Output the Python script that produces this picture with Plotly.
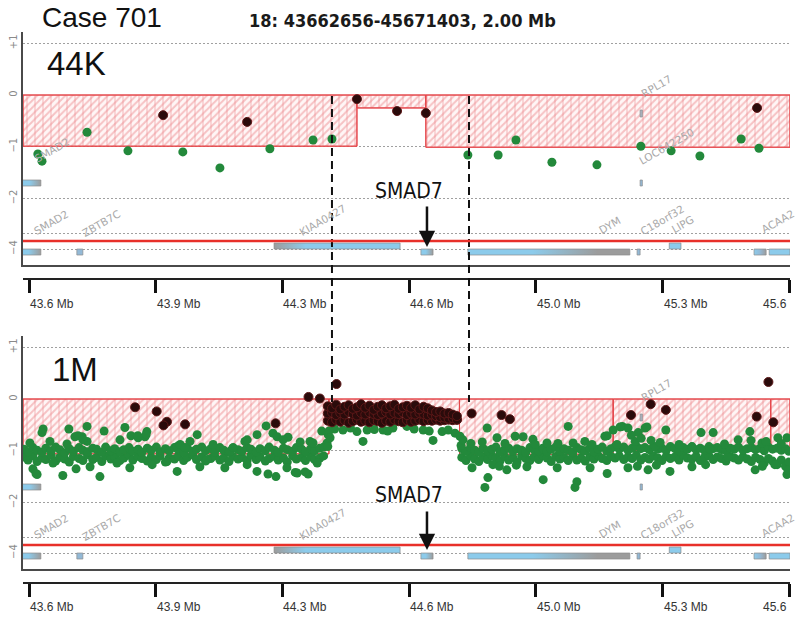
import plotly.graph_objects as go

# ---------------- data ----------------
x_range = [43.6468, 45.673]
y_range = [-3.288, 1.219]

tick_vals = [43.6627, 43.9974, 44.3322, 44.6670, 45.0018, 45.3366, 45.6714]
tick_text = ["43.6 Mb", "43.9 Mb", "44.3 Mb", "44.6 Mb", "45.0 Mb", "45.3 Mb", "45.6"]

ytick_vals = [1, 0, -1, -2, -2.67, -2.98]
ytick_text = ["+1", "0", "\u22121", "\u22122", "", "\u22124"]

# ---- 44K array ----
k44_green = [(43.686, -1.14), (43.697, -1.28), (43.816, -0.72), (43.924, -1.08), (44.069, -1.10),
             (44.167, -1.41), (44.299, -1.04), (44.413, -0.87), (44.463, -0.85), (44.822, -1.16),
             (44.902, -1.16), (44.949, -0.87), (45.044, -1.30), (45.163, -1.35), (45.279, -0.99),
             (45.359, -1.08), (45.435, -1.18), (45.544, -0.85), (45.591, -1.03)]
k44_dark = [(44.017, -0.39), (44.239, -0.52), (44.529, -0.08), (44.635, -0.31), (44.711, -0.35),
            (45.586, -0.25)]
k44_seg_start = [43.6468, 44.529, 44.711]
k44_seg_end = [44.529, 44.711, 45.673]
k44_seg_mean = [-0.99, -0.25, -1.01]

# ---- 1M array ----
m1_seg_start = [43.6468, 44.455, 44.800, 45.206, 45.622]
m1_seg_end = [44.455, 44.800, 45.206, 45.622, 45.673]
m1_seg_mean = [-1.06, -0.39, -1.07, -0.99, -0.99]

m1_green_scatter = [
    (43.700, -0.58), (43.697, -0.65), (43.768, -0.58), (43.816, -0.53), (43.861, -0.62), (43.916, -0.55),
    (43.974, -0.63), (43.932, -0.71), (43.665, -0.85), (43.718, -0.82), (43.763, -0.87), (43.784, -0.73),
    (43.803, -0.73), (43.816, -0.82), (43.903, -0.79), (43.951, -0.75), (43.969, -0.73), (44.107, -0.69),
    (44.088, -0.82), (44.054, -0.92), (44.289, -0.52), (44.233, -0.82), (44.265, -0.69), (44.307, -0.66),
    (44.347, -0.74), (44.405, -0.82), (44.453, -0.69), (44.450, -0.85), (44.149, -0.88), (44.194, -1.01),
    (44.436, -0.62), (43.792, -0.71), (43.805, -0.79), (44.062, -0.88), (44.075, -0.94), (44.202, -0.94),
    (44.239, -0.79), (44.318, -0.73), (44.334, -0.79), (44.379, -0.83), (44.413, -0.85), (43.972, -0.69),
    (43.950, -0.71),
    (43.673, -1.35), (43.684, -1.46), (43.752, -1.48), (43.787, -1.35), (43.824, -1.31), (43.850, -1.50),
    (43.929, -1.33), (44.054, -1.40), (44.114, -1.31), (44.133, -1.17), (43.726, -1.24), (43.895, -1.24),
    (43.988, -1.27), (44.027, -1.21), (44.180, -1.33), (44.265, -1.40), (44.294, -1.45), (44.315, -1.50),
    (44.371, -1.43), (44.400, -1.45), (44.344, -1.33), (44.239, -1.27), (44.424, -1.24), (43.681, -1.44),
    (44.366, -1.42), (44.392, -1.41),
    (44.492, -0.60), (44.529, -0.63), (44.556, -0.60), (44.598, -0.60), (44.624, -0.56), (44.545, -0.82),
    (44.661, -0.53), (44.704, -0.60), (44.730, -0.80), (44.754, -0.63), (44.788, -0.66), (44.470, -0.58),
    (44.512, -0.56), (44.575, -0.59), (44.610, -0.62), (44.680, -0.58), (44.720, -0.62), (44.770, -0.60),
    (44.455, -0.62), (44.458, -0.75), (44.452, -0.92), (44.801, -0.72), (44.804, -0.90),
    (44.873, -0.56), (45.087, -0.53), (44.809, -0.79), (44.899, -0.75), (44.947, -0.72), (44.968, -0.73),
    (44.994, -0.78), (45.031, -0.85), (45.100, -0.85), (45.131, -0.82), (45.150, -0.88), (45.184, -0.72),
    (45.206, -0.60), (45.230, -0.53), (45.245, -0.56), (45.272, -0.65), (45.290, -0.56), (45.345, -0.60),
    (45.438, -0.65), (45.470, -0.65), (45.567, -0.63), (45.536, -0.79), (45.641, -0.75), (45.665, -0.75),
    (45.216, -0.88), (45.264, -0.82), (45.316, -0.92), (45.414, -0.92), (45.462, -0.98), (45.599, -0.85),
    (45.224, -0.54), (45.295, -0.54), (45.190, -0.71), (45.254, -0.70), (45.280, -0.76), (45.306, -0.80),
    (45.330, -0.84), (45.570, -0.80), (45.610, -0.82), (45.650, -0.86), (44.830, -0.86), (44.860, -0.83),
    (44.920, -0.86), (45.000, -0.88), (45.060, -0.86), (45.380, -0.88), (45.500, -0.87),
    (44.833, -1.33), (44.875, -1.52), (44.867, -1.71), (44.925, -1.37), (45.021, -1.56), (45.110, -1.60),
    (45.105, -1.71), (44.978, -1.31), (45.058, -1.33), (45.145, -1.33), (44.888, -1.27), (45.190, -1.44),
    (45.245, -1.33), (45.298, -1.37), (45.356, -1.40), (45.414, -1.31), (45.581, -1.37), (45.665, -1.46),
    (45.509, -1.13), (45.633, -1.27), (44.905, -1.30), (44.950, -1.28), (45.270, -1.30), (45.320, -1.28),
    (45.450, -1.27), (45.600, -1.30), (45.668, -1.38),
]

m1_band_left_x = [43.649, 43.660, 43.673, 43.684, 43.697, 43.707, 43.721, 43.733, 43.744, 43.757,
                  43.769, 43.780, 43.795, 43.805, 43.817, 43.831, 43.841, 43.855, 43.865, 43.879,
                  43.889, 43.903, 43.913, 43.927, 43.937, 43.951, 43.961, 43.975, 43.985, 43.999,
                  44.009, 44.023, 44.033, 44.047, 44.057, 44.071, 44.081, 44.095, 44.105, 44.119,
                  44.129, 44.143, 44.153, 44.167, 44.177, 44.191, 44.201, 44.215, 44.225, 44.239,
                  44.249, 44.263, 44.273, 44.287, 44.297, 44.311, 44.321, 44.335, 44.345, 44.359,
                  44.369, 44.383, 44.393, 44.407, 44.417, 44.431, 44.441]
m1_band_left_hi = [-0.97, -1.02, -0.94, -0.99, -1.03, -0.95, -1.00, -0.93, -0.98, -1.04,
                   -0.96, -1.01, -0.94, -0.99, -1.02, -0.95, -0.97, -1.03, -0.93, -1.00,
                   -0.96, -1.02, -0.98, -0.94, -1.01, -0.97, -1.03, -0.95, -0.99, -0.93,
                   -1.02, -0.96, -1.00, -0.94, -0.98, -1.03, -0.95, -1.01, -0.97, -0.93,
                   -1.00, -0.96, -1.02, -0.94, -0.99, -1.03, -0.95, -0.98, -1.01, -0.94,
                   -0.97, -1.02, -0.96, -1.00, -0.93, -0.99, -1.03, -0.95, -0.98, -1.01,
                   -0.94, -0.97, -1.02, -0.96, -1.00, -0.95, -0.93]
m1_band_left_lo = [-1.12, -1.18, -1.10, -1.21, -1.14, -1.17, -1.09, -1.20, -1.13, -1.16,
                   -1.22, -1.11, -1.15, -1.19, -1.08, -1.17, -1.13, -1.21, -1.10, -1.16,
                   -1.12, -1.19, -1.14, -1.09, -1.18, -1.11, -1.15, -1.20, -1.13, -1.17,
                   -1.10, -1.22, -1.14, -1.16, -1.11, -1.19, -1.13, -1.08, -1.17, -1.12,
                   -1.20, -1.15, -1.10, -1.18, -1.14, -1.21, -1.11, -1.16, -1.13, -1.19,
                   -1.09, -1.17, -1.12, -1.20, -1.15, -1.11, -1.18, -1.14, -1.22, -1.10,
                   -1.16, -1.13, -1.19, -1.12, -1.17, -1.14, -1.10]

m1_band_right_x = [44.806, 44.817, 44.829, 44.840, 44.851, 44.862, 44.874, 44.885, 44.896, 44.907,
                   44.919, 44.930, 44.941, 44.952, 44.964, 44.975, 44.986, 44.997, 45.009, 45.020,
                   45.031, 45.042, 45.054, 45.065, 45.076, 45.087, 45.099, 45.110, 45.121, 45.132,
                   45.144, 45.155, 45.166, 45.177, 45.189, 45.200, 45.211, 45.222, 45.234, 45.245,
                   45.256, 45.267, 45.279, 45.290, 45.301, 45.312, 45.324, 45.335, 45.346, 45.357,
                   45.369, 45.380, 45.391, 45.402, 45.414, 45.425, 45.436, 45.447, 45.459, 45.470,
                   45.481, 45.492, 45.504, 45.515, 45.526, 45.537, 45.549, 45.560, 45.571, 45.582,
                   45.594, 45.605, 45.616, 45.627, 45.639, 45.650, 45.661, 45.670]
m1_band_right_hi = [-0.96, -1.01, -0.94, -0.99, -1.03, -0.95, -1.00, -0.97, -0.93, -1.02,
                    -0.98, -0.95, -1.01, -0.96, -0.99, -1.03, -0.94, -0.98, -1.00, -0.95,
                    -1.02, -0.97, -0.93, -1.01, -0.96, -0.99, -1.03, -0.94, -0.98, -1.00,
                    -0.95, -1.02, -0.97, -0.93, -1.01, -0.96, -0.92, -0.97, -0.93, -0.99,
                    -0.95, -0.91, -0.96, -0.94, -0.98, -0.93, -0.97, -0.95, -0.99, -0.92,
                    -0.96, -1.00, -0.94, -0.97, -0.93, -0.98, -0.95, -0.99, -0.92, -0.96,
                    -0.94, -0.98, -1.00, -0.95, -0.97, -0.93, -0.99, -0.96, -0.94, -0.98,
                    -0.95, -1.00, -0.93, -0.97, -0.95, -0.99, -0.96, -1.01]
m1_band_right_lo = [-1.13, -1.19, -1.10, -1.16, -1.21, -1.12, -1.17, -1.09, -1.14, -1.20,
                    -1.11, -1.18, -1.13, -1.22, -1.10, -1.15, -1.19, -1.12, -1.17, -1.09,
                    -1.14, -1.21, -1.11, -1.16, -1.13, -1.19, -1.10, -1.18, -1.14, -1.20,
                    -1.12, -1.16, -1.09, -1.15, -1.19, -1.11, -1.14, -1.10, -1.17, -1.12,
                    -1.15, -1.09, -1.18, -1.13, -1.16, -1.10, -1.14, -1.19, -1.11, -1.15,
                    -1.12, -1.18, -1.09, -1.14, -1.16, -1.11, -1.19, -1.13, -1.10, -1.17,
                    -1.12, -1.15, -1.20, -1.11, -1.14, -1.18, -1.12, -1.16, -1.21, -1.13,
                    -1.17, -1.24, -1.15, -1.20, -1.27, -1.18, -1.30, -1.22]

m1_cluster_x = [44.452, 44.463, 44.474, 44.485, 44.496, 44.507, 44.518, 44.529, 44.540, 44.551,
                44.562, 44.573, 44.584, 44.595, 44.606, 44.617, 44.628, 44.639, 44.650, 44.661,
                44.672, 44.683, 44.694, 44.705, 44.716, 44.727, 44.738, 44.749, 44.760, 44.771,
                44.782, 44.793]
m1_cluster_top = [-0.14, -0.18, -0.11, -0.20, -0.15, -0.12, -0.19, -0.16, -0.10, -0.17,
                  -0.13, -0.21, -0.15, -0.12, -0.18, -0.14, -0.11, -0.19, -0.16, -0.13,
                  -0.17, -0.12, -0.20, -0.15, -0.18, -0.22, -0.25, -0.24, -0.28, -0.27,
                  -0.30, -0.33]
m1_cluster_mid = [-0.28, -0.26, -0.31, -0.27, -0.30, -0.25, -0.29, -0.32, -0.27, -0.30,
                  -0.26, -0.29, -0.31, -0.28, -0.25, -0.30, -0.27, -0.29, -0.26, -0.31,
                  -0.28, -0.30, -0.27, -0.29, -0.32, -0.30, -0.33, -0.35, -0.36, -0.38,
                  -0.37, -0.40]
m1_cluster_low = [-0.42, -0.45, -0.40, -0.44, -0.41, -0.46, -0.43, -0.40, -0.44, -0.42,
                  -0.45, -0.41, -0.43, -0.46, -0.42, -0.44, -0.40, -0.43, -0.45, -0.41,
                  -0.44, -0.42, -0.40, -0.43, -0.41, -0.42, -0.40, -0.42, -0.41, -0.40,
                  -0.41, -0.40]

m1_dark = [(43.943, -0.16), (44.000, -0.24), (44.027, -0.44), (44.018, -0.51), (44.075, -0.49),
           (44.314, -0.47), (44.401, 0.04), (44.431, 0.01), (44.475, 0.29), (44.832, -0.28),
           (44.911, -0.31), (44.933, -0.39), (45.253, -0.31), (45.305, -0.10), (45.345, -0.21),
           (45.585, -0.34), (45.629, -0.45), (45.616, 0.33)]

# ---- gene track ----
gene_start = [43.644, 43.789, 44.310, 44.698, 44.822, 45.269, 45.354, 45.578, 45.618]
gene_end = [43.694, 43.805, 44.643, 44.730, 45.250, 45.277, 45.385, 45.610, 45.673]
gene_row = ["low", "low", "up", "low", "low", "low", "up", "low", "low"]
BLUE, GRAY, MIX = "#8ccbeb", "#9c9c9c", "#93b9d6"
gene_scale = [
    [[0, BLUE], [0.35, BLUE], [1, GRAY]],
    [[0, MIX], [1, MIX]],
    [[0, GRAY], [0.25, BLUE], [1, BLUE]],
    [[0, BLUE], [0.4, BLUE], [1, GRAY]],
    [[0, BLUE], [0.4, BLUE], [0.8, GRAY], [1, GRAY]],
    [[0, MIX], [1, MIX]],
    [[0, BLUE], [1, BLUE]],
    [[0, BLUE], [0.5, MIX], [1, GRAY]],
    [[0, BLUE], [1, BLUE]],
]
row_span = {"up": (-2.863, -2.979), "low": (-2.979, -3.095)}

# small feature boxes drawn in the ratio area
feat_start = [43.644, 45.277, 45.277]
feat_end = [43.694, 45.283, 45.283]
feat_top = [-1.644, -1.644, -0.29]
feat_bot = [-1.760, -1.760, -0.425]
feat_scale = [[[0, BLUE], [0.4, BLUE], [1, GRAY]], [[0, MIX], [1, MIX]], [[0, "#aab4c2"], [1, "#aab4c2"]]]

track_label_text = ["SMAD2", "ZBTB7C", "KIAA0427", "DYM", "C18orf32", "LIPG", "ACAA2"]
track_label_x = [43.722, 43.854, 44.438, 45.196, 45.335, 45.390, 45.642]
track_label_y = [-2.45, -2.47, -2.42, -2.51, -2.42, -2.50, -2.44]

k44_feat_label_text = ["SMAD2", "RPL17", "LOC642250"]
k44_feat_label_x = [43.723, 45.320, 45.348]
k44_feat_label_y = [-1.06, 0.17, -0.99]
m1_feat_label_text = ["RPL17"]
m1_feat_label_x = [45.320]
m1_feat_label_y = [0.17]

breakpoints = [44.463, 44.825]
smad7_tip_x = 44.714
smad7_text_x = 44.667

# ---------------- figure ----------------
GREEN = "#23893b"
DARK = "#2a0b0b"
fig = go.Figure()


def add_segments(starts, ends, means, xa, ya):
    xs = [(s + e) / 2 for s, e in zip(starts, ends)]
    ws = [e - s for s, e in zip(starts, ends)]
    fig.add_trace(go.Bar(x=xs, y=means, width=ws, base=0, xaxis=xa, yaxis=ya,
                         marker=dict(color="white", line=dict(color="#e5474b", width=1),
                                     pattern=dict(shape="/", fgcolor="#ee8e92", bgcolor="#fff6f6",
                                                  size=5, solidity=0.4)),
                         hoverinfo="skip", showlegend=False))
    fig.add_trace(go.Bar(x=xs, y=means, width=ws, base=0, xaxis=xa, yaxis=ya,
                         marker=dict(color="rgba(0,0,0,0)", line=dict(color="#e5474b", width=1),
                                     pattern=dict(shape="|", fgcolor="#ec8a8e",
                                                  bgcolor="rgba(0,0,0,0)", size=8, solidity=0.15)),
                         hoverinfo="skip", showlegend=False))


def add_box(x0, x1, y0, y1, cs, xa, ya):
    fig.add_trace(go.Scatter(x=[x0, x1, x1, x0, x0], y=[y0, y0, y1, y1, y0], mode="lines",
                             fill="toself", fillgradient=dict(type="horizontal", colorscale=cs),
                             line=dict(color="#8d8d8d", width=0.7), xaxis=xa, yaxis=ya,
                             hoverinfo="skip", showlegend=False))


def add_points(pts_x, pts_y, color, xa, ya, dark=False):
    line = dict(color="#5c1818", width=1) if dark else dict(width=0)
    fig.add_trace(go.Scatter(x=pts_x, y=pts_y, mode="markers", xaxis=xa, yaxis=ya,
                             marker=dict(size=9, color=color, line=line),
                             hoverinfo="skip", showlegend=False))


panels = [
    ("x", "y", k44_seg_start, k44_seg_end, k44_seg_mean),
    ("x2", "y2", m1_seg_start, m1_seg_end, m1_seg_mean),
]
for xa, ya, ss, se, sm in panels:
    add_segments(ss, se, sm, xa, ya)
    for s, e, r, cs in zip(gene_start, gene_end, gene_row, gene_scale):
        add_box(s, e, row_span[r][0], row_span[r][1], cs, xa, ya)
    for s, e, t, b, cs in zip(feat_start, feat_end, feat_top, feat_bot, feat_scale):
        add_box(s, e, t, b, cs, xa, ya)

# 44K points
add_points([p[0] for p in k44_green], [p[1] for p in k44_green], GREEN, "x", "y")
add_points([p[0] for p in k44_dark], [p[1] for p in k44_dark], DARK, "x", "y", dark=True)

# 1M points
add_points(m1_band_left_x, m1_band_left_lo, GREEN, "x2", "y2")
add_points(m1_band_left_x, m1_band_left_hi, GREEN, "x2", "y2")
add_points(m1_band_right_x, m1_band_right_lo, GREEN, "x2", "y2")
add_points(m1_band_right_x, m1_band_right_hi, GREEN, "x2", "y2")
add_points([p[0] for p in m1_green_scatter], [p[1] for p in m1_green_scatter], GREEN, "x2", "y2")
add_points(m1_cluster_x, m1_cluster_low, DARK, "x2", "y2", dark=True)
add_points(m1_cluster_x, m1_cluster_mid, DARK, "x2", "y2", dark=True)
add_points(m1_cluster_x, m1_cluster_top, DARK, "x2", "y2", dark=True)
add_points([p[0] for p in m1_dark], [p[1] for p in m1_dark], DARK, "x2", "y2", dark=True)

# invisible anchors for the coordinate (tick) axes
fig.add_trace(go.Scatter(x=x_range, y=[0, 0], xaxis="x3", yaxis="y", mode="markers",
                         marker=dict(opacity=0), hoverinfo="skip", showlegend=False))
fig.add_trace(go.Scatter(x=x_range, y=[0, 0], xaxis="x4", yaxis="y2", mode="markers",
                         marker=dict(opacity=0), hoverinfo="skip", showlegend=False))

H = 618.0
def py(p):
    return 1 - p / H

data_x = dict(range=x_range, showline=True, linecolor="#4a4a4a", linewidth=1.5, ticks="",
              showticklabels=False, showgrid=False, zeroline=False, automargin=False)
data_y = dict(range=y_range, showline=True, linecolor="#4a4a4a", linewidth=1.5, ticks="",
              tickvals=ytick_vals, ticktext=ytick_text, tickangle=-90,
              tickfont=dict(size=10, color="#8a8a8a", family="DejaVu Sans"),
              showgrid=True, gridcolor="#a0a0a0", gridwidth=1, griddash="2px,2px",
              zeroline=False, automargin=False)
coord_x = dict(range=x_range, tickvals=tick_vals, showticklabels=False, ticks="outside",
               ticklen=13, tickwidth=3, tickcolor="#111111", showline=True, linecolor="#222222",
               linewidth=1.5, showgrid=False, zeroline=False, anchor="free", automargin=False)

fig.update_layout(
    width=800, height=618,
    margin=dict(l=23, r=10, t=0, b=0),
    paper_bgcolor="white", plot_bgcolor="white",
    barmode="overlay", showlegend=False,
    xaxis=dict(domain=[0, 1], anchor="y", **data_x),
    yaxis=dict(domain=[py(265), py(32)], anchor="x", **data_y),
    xaxis2=dict(domain=[0, 1], anchor="y2", **data_x),
    yaxis2=dict(domain=[py(569), py(336)], anchor="x2", **data_y),
    xaxis3=dict(overlaying="x", position=py(279), **coord_x),
    xaxis4=dict(overlaying="x2", position=py(583), **coord_x),
)

shapes = []
for bx in breakpoints:
    shapes.append(dict(type="line", xref="x", yref="paper", x0=bx, x1=bx, y0=py(96), y1=py(402),
                       line=dict(color="#111111", width=2, dash="8px,5px"), layer="above"))
for xa, ya in [("x", "y"), ("x2", "y2")]:
    shapes.append(dict(type="line", xref=xa + " domain", yref=ya, x0=0, x1=1, y0=-2.824, y1=-2.824,
                       line=dict(color="#e8302a", width=2.5), layer="above"))
fig.update_layout(shapes=shapes)

ann = []
ann.append(dict(text="Case 701", xref="paper", yref="paper", x=(102 - 23) / 767, y=py(18),
                xanchor="center", yanchor="middle", showarrow=False,
                font=dict(family="Liberation Sans, Arial", size=28, color="#111111")))
ann.append(dict(text="<b>18: 43662656-45671403, 2.00 Mb</b>", xref="paper", yref="paper",
                x=(402.5 - 23) / 767, y=py(20.5), xanchor="center", yanchor="middle", showarrow=False,
                font=dict(family="DejaVu Sans Condensed", size=18, color="#1a1a1a")))
ann.append(dict(text="44K", xref="paper", yref="paper", x=(76 - 23) / 767, y=py(64),
                xanchor="center", yanchor="middle", showarrow=False,
                font=dict(family="Liberation Sans, Arial", size=33, color="#111111")))
ann.append(dict(text="1M", xref="paper", yref="paper", x=(75 - 23) / 767, y=py(369),
                xanchor="center", yanchor="middle", showarrow=False,
                font=dict(family="Liberation Sans, Arial", size=33, color="#111111")))

label_font = dict(family="DejaVu Sans", size=10.5, color="#a9a9a9")
for xa, ya, ftext, fx, fy, arrow_y, ay in [
        ("x", "y", k44_feat_label_text, k44_feat_label_x, k44_feat_label_y, -2.94, -42),
        ("x2", "y2", m1_feat_label_text, m1_feat_label_x, m1_feat_label_y, -2.92, -40)]:
    for t, lx, ly in zip(track_label_text + ftext, track_label_x + fx, track_label_y + fy):
        ann.append(dict(text=t, xref=xa, yref=ya, x=lx, y=ly, textangle=-30, showarrow=False,
                        xanchor="center", yanchor="middle", font=label_font))
    ann.append(dict(text="SMAD7", xref=xa, yref=ya, x=smad7_text_x, y=-1.86, showarrow=False,
                    xanchor="center", yanchor="middle",
                    font=dict(family="DejaVu Sans Condensed", size=21, color="#111111")))
    ann.append(dict(text="", xref=xa, yref=ya, x=smad7_tip_x, y=arrow_y, ax=0, ay=ay,
                    showarrow=True, arrowhead=2, arrowsize=1.3, arrowwidth=2.5, arrowcolor="#111111",
                    standoff=0))

for ypos in [py(304), py(607)]:
    for i, (v, t) in enumerate(zip(tick_vals, tick_text)):
        last = i == len(tick_vals) - 1
        ann.append(dict(text=t, xref="x", yref="paper", x=v, y=ypos, showarrow=False,
                        xanchor="right" if last else "left", yanchor="middle", xshift=0 if last else -1,
                        font=dict(family="Liberation Sans, Arial", size=12, color="#333333")))

fig.update_layout(annotations=ann)

fig.write_html("out.html", config={"displayModeBar": False},
               post_script="document.body.style.margin='0';")
